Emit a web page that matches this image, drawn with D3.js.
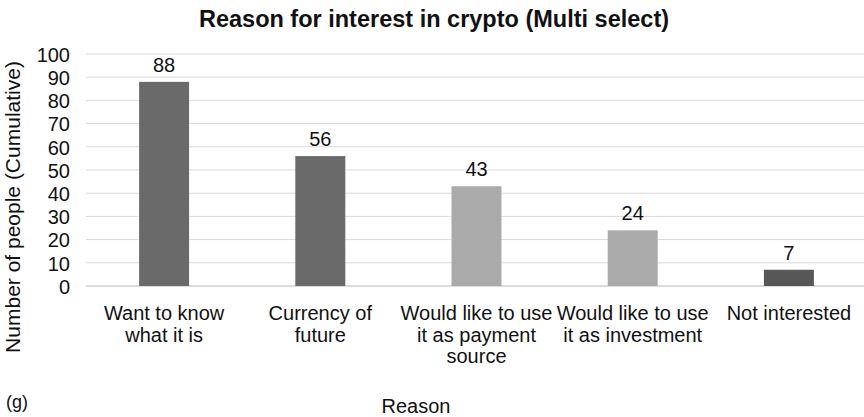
<!DOCTYPE html>
<html>
<head>
<meta charset="utf-8">
<script src="https://cdn.jsdelivr.net/npm/d3@7"></script>
<style>
  body { margin: 0; background: #fff; }
  svg text { font-family: "Liberation Sans", Arial, sans-serif; fill: #111; }
</style>
</head>
<body>
<svg id="chart" width="864" height="417"></svg>
<script>
// chart values
const categories = ["Want to know|what it is", "Currency of|future", "Would like to use|it as payment|source", "Would like to use|it as investment", "Not interested"];
const counts = [88, 56, 43, 24, 7];
const barColors = ["#6a6a6a", "#6a6a6a", "#aaaaaa", "#aaaaaa", "#575757"];
const yTicks = [0, 10, 20, 30, 40, 50, 60, 70, 80, 90, 100];

const svg = d3.select("#chart");

let x = d3.scaleBand().domain(categories).range([86, 867]).paddingInner(0.68).paddingOuter(0.34);
let y = d3.scaleLinear().domain([0, 100]).range([286, 54]);

// gridlines
svg.append("g").selectAll("line").data(yTicks).join("line")
    .attr("x1", 86).attr("x2", 864)
    .attr("y1", d => y(d)).attr("y2", d => y(d))
    .attr("stroke", d => d === 0 ? "#cfcfcf" : "#d9d9d9")
    .attr("stroke-width", d => d === 0 ? 1.5 : 1);

// y axis tick labels
let yAxis = d3.axisLeft(y).tickValues(yTicks).tickSize(0).tickPadding(0);
let yg = svg.append("g").attr("transform", "translate(70,0)").call(yAxis);
yg.select(".domain").remove();
yg.selectAll("text").attr("font-size", 20).attr("dy", "0.36em")
    .style("font-family", "Liberation Sans, Arial, sans-serif").attr("fill", "#111");

// bars
svg.append("g").selectAll("rect").data(counts).join("rect")
    .attr("x", (d, i) => x(categories[i]))
    .attr("width", x.bandwidth())
    .attr("y", d => y(d))
    .attr("height", d => y(0) - y(d))
    .attr("fill", (d, i) => barColors[i]);

// value labels
svg.append("g").selectAll("text").data(counts).join("text")
    .attr("x", (d, i) => x(categories[i]) + x.bandwidth() / 2)
    .attr("y", d => y(d) - 10)
    .attr("text-anchor", "middle")
    .attr("font-size", 20)
    .text(d => d);

// category labels
let catLabels = svg.append("g").selectAll("text").data(categories).join("text")
    .attr("x", d => x(d) + x.bandwidth() / 2)
    .attr("y", 320)
    .attr("text-anchor", "middle")
    .attr("font-size", 20);
catLabels.each(function(d) {
    let lines = d.split("|");
    d3.select(this).selectAll("tspan").data(lines).join("tspan")
        .attr("x", x(d) + x.bandwidth() / 2)
        .attr("dy", (l, i) => i === 0 ? 0 : 21.5)
        .text(l => l);
});

// title
svg.append("text")
    .attr("x", 434).attr("y", 27)
    .attr("text-anchor", "middle")
    .attr("font-size", 23.5).attr("font-weight", "bold")
    .text("Reason for interest in crypto (Multi select)");

// axis titles
svg.append("text")
    .attr("transform", "translate(20,207) rotate(-90)")
    .attr("text-anchor", "middle")
    .attr("font-size", 21)
    .text("Number of people (Cumulative)");

svg.append("text")
    .attr("x", 416).attr("y", 413)
    .attr("text-anchor", "middle")
    .attr("font-size", 20)
    .text("Reason");

svg.append("text")
    .attr("x", 6).attr("y", 408)
    .attr("font-size", 18)
    .attr("fill", "#333")
    .text("(g)");
</script>
</body>
</html>
